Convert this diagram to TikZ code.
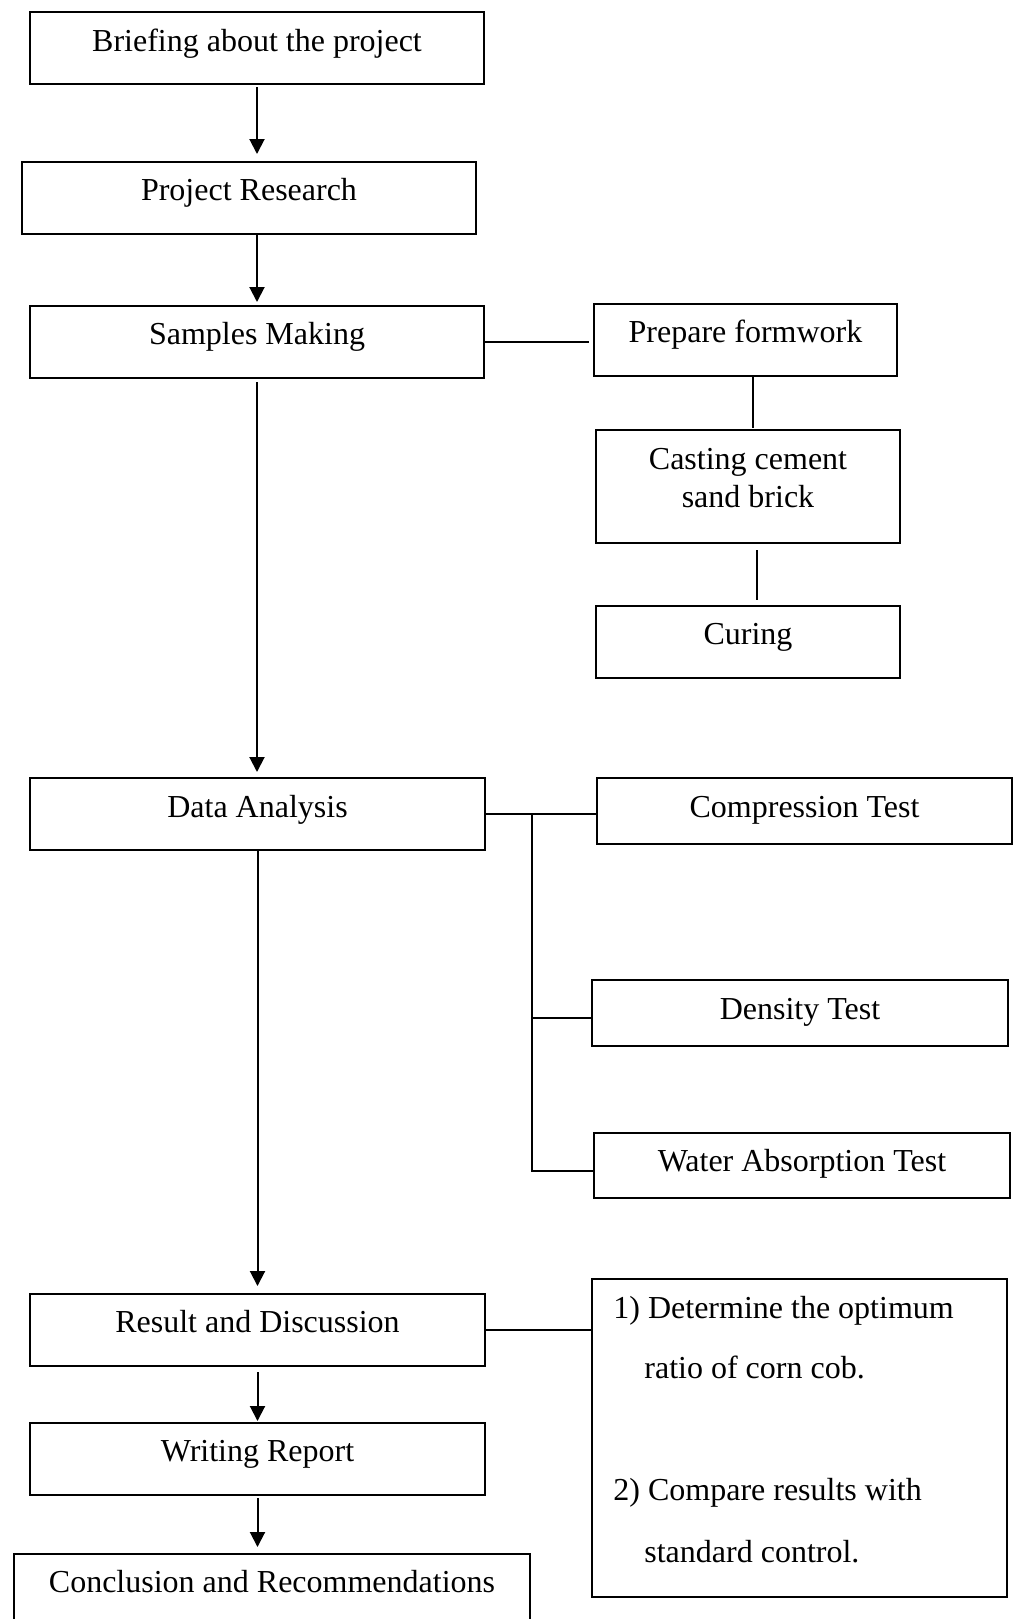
\documentclass[tikz,border=0pt]{standalone}
\usepackage{fontspec}
\setmainfont{Liberation Serif}
\usetikzlibrary{arrows.meta,fit,calc}
\begin{document}
\begin{tikzpicture}[x=0.5pt,y=-0.5pt,
  box/.style={draw, line width=1pt, inner sep=0pt, rectangle},
  txt/.style={inner sep=0pt, anchor=base, font=\fontsize{16pt}{19pt}\selectfont},
  ltxt/.style={inner sep=0pt, anchor=base west, font=\fontsize{16pt}{19pt}\selectfont},
  arr/.style={line width=1pt, -{Triangle[length=7.5pt,width=7.5pt]}},
  conn/.style={line width=0.8pt}]
\clip (0,0) rectangle (1017,1619);
\fill[white] (0,0) rectangle (1017,1619);
% boxes
\node[box, fit={(30,12)(484,84)}] (brief) {};
\node[box, fit={(22,162)(476,234)}] (proj) {};
\node[box, fit={(30,306)(484,378)}] (samp) {};
\node[box, fit={(594,304)(897,376)}] (prep) {};
\node[box, fit={(596,430)(900,543)}] (cast) {};
\node[box, fit={(596,606)(900,678)}] (cur) {};
\node[box, fit={(30,778)(485,850)}] (data) {};
\node[box, fit={(597,778)(1012,844)}] (comp) {};
\node[box, fit={(592,980)(1008,1046)}] (den) {};
\node[box, fit={(594,1133)(1010,1198)}] (wat) {};
\node[box, fit={(30,1294)(485,1366)}] (res) {};
\node[box, fit={(30,1423)(485,1495)}] (wri) {};
\node[box, fit={(14,1554)(530,1660)}] (conc) {};
\node[box, fit={(592,1279)(1007,1597)}] (opt) {};
% texts
\node[txt] (brieft) at ($(brief.north)+(0,40)$) {Briefing about the project};
\node[txt] (projt) at ($(proj.north)+(0,39)$) {Project Research};
\node[txt] (sampt) at ($(samp.north)+(0,39)$) {Samples Making};
\node[txt] (prept) at ($(prep.north)+(0,39)$) {Prepare formwork};
\node[txt] (castt1) at ($(cast.north)+(0,40)$) {Casting cement};
\node[txt] (castt2) at ($(cast.north)+(0,78)$) {sand brick};
\node[txt] (curt) at ($(cur.north)+(0,39)$) {Curing};
\node[txt] (datat) at ($(data.north)+(0,40)$) {Data Analysis};
\node[txt] (compt) at ($(comp.north)+(0,40)$) {Compression Test};
\node[txt] (dent) at ($(den.north)+(0,40)$) {Density Test};
\node[txt] (watt) at ($(wat.north)+(0,39)$) {Water Absorption Test};
\node[txt] (rest) at ($(res.north)+(0,39)$) {Result and Discussion};
\node[txt] (writ) at ($(wri.north)+(0,39)$) {Writing Report};
\node[txt] (conct) at ($(conc.north)+(0,39)$) {Conclusion and Recommendations};
\node[ltxt] (opt1) at (613,1318) {1) Determine the optimum};
\node[ltxt] (opt2) at (644,1378) {ratio of corn cob.};
\node[ltxt] (opt3) at (613,1500) {2) Compare results with};
\node[ltxt] (opt4) at (644,1562) {standard control.};
% main arrows
\draw[arr] ([yshift=-1pt]brief.south) -- ([yshift=3.5pt]proj.north -| brief.south);
\draw[arr] (proj.south -| brief.south) -- ([yshift=1.5pt]samp.north -| brief.south);
\draw[arr] ([yshift=-1.5pt]samp.south) -- ([yshift=2.5pt]data.north -| samp.south);
\draw[arr] (data.south) -- ([yshift=3.5pt]res.north -| data.south);
\draw[arr] ([yshift=-2.5pt]res.south) -- ([yshift=0.5pt]wri.north -| res.south);
\draw[arr] ([yshift=-1pt]wri.south) -- ([yshift=3pt]conc.north -| wri.south);
% side connectors
\draw[conn] (samp.east) -- ([xshift=-2pt]samp.east -| prep.west);
\draw[conn] ($(prep.south)+(7.5,0)$) -- ($(cast.north)+(5,-1)$);
\draw[conn] ($(cast.south)+(9,6)$) -- ($(cur.north)+(9,-5)$);
\draw[conn] (data.east) -- (data.east -| comp.west);
\coordinate (j1) at (532,814);
\coordinate (j2) at (532,1018);
\coordinate (j3) at (532,1171);
\draw[conn] (j1) -- (j3) -- (j3 -| wat.west);
\draw[conn] (j2) -- (j2 -| den.west);
\draw[conn] (res.east) -- (res.east -| opt.west);
\end{tikzpicture}
\end{document}
